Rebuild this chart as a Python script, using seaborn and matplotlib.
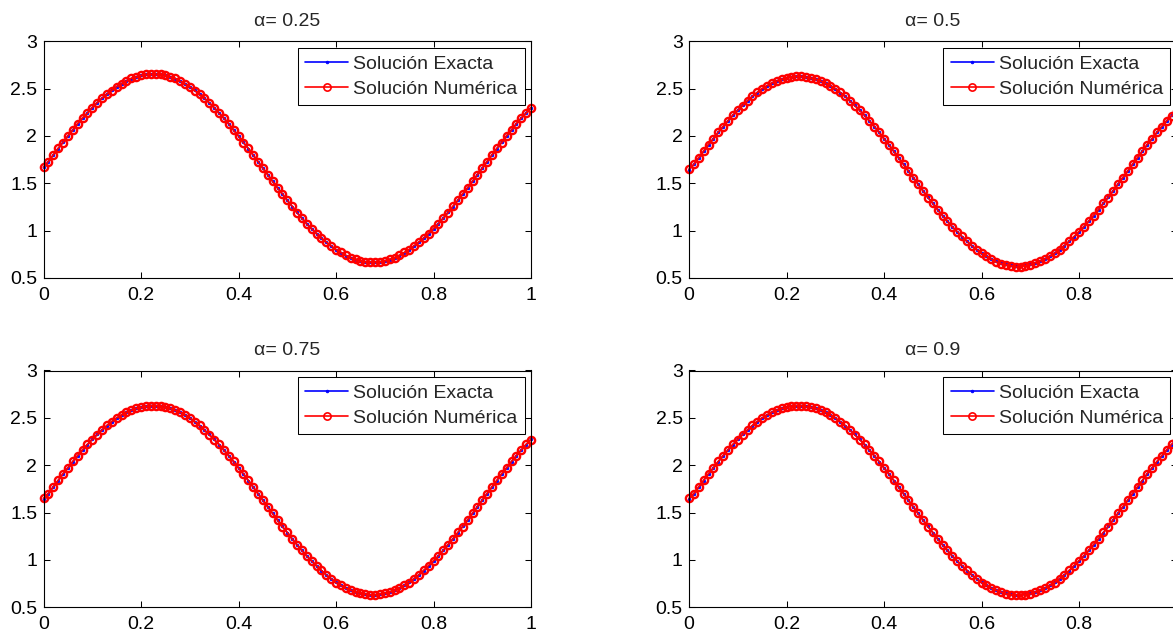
import numpy as np
import matplotlib
matplotlib.use("Agg")
import matplotlib.pyplot as plt
from matplotlib.ticker import FuncFormatter
import seaborn as sns

# ---- data ---------------------------------------------------------------
alphas = [0.25, 0.5, 0.75, 0.9]
x_nodes = np.linspace(0.0, 1.0, 101)

# exact solution u(x) at the grid nodes, alpha = 0.25
exact_025 = [
    1.672, 1.729, 1.798, 1.867, 1.934, 2.000, 2.065, 2.127, 2.187, 2.245,
    2.300, 2.351, 2.399, 2.444, 2.485, 2.522, 2.554, 2.583, 2.606, 2.625,
    2.640, 2.650, 2.654, 2.654, 2.650, 2.640, 2.625, 2.606, 2.583, 2.554,
    2.522, 2.485, 2.444, 2.399, 2.351, 2.300, 2.245, 2.187, 2.127, 2.065,
    2.000, 1.934, 1.867, 1.798, 1.729, 1.660, 1.591, 1.522, 1.453, 1.386,
    1.320, 1.255, 1.193, 1.133, 1.075, 1.020, 0.969, 0.921, 0.876, 0.835,
    0.798, 0.766, 0.737, 0.714, 0.695, 0.680, 0.670, 0.666, 0.666, 0.670,
    0.680, 0.695, 0.714, 0.737, 0.766, 0.798, 0.835, 0.876, 0.921, 0.969,
    1.020, 1.075, 1.133, 1.193, 1.255, 1.320, 1.386, 1.453, 1.522, 1.591,
    1.660, 1.729, 1.798, 1.867, 1.934, 2.000, 2.065, 2.127, 2.187, 2.245,
    2.300,
]

# exact solution u(x) at the grid nodes, alpha = 0.5, 0.75, 0.9
exact = [
    1.645, 1.700, 1.769, 1.838, 1.906, 1.972, 2.037, 2.100, 2.160, 2.218,
    2.273, 2.325, 2.373, 2.418, 2.459, 2.496, 2.529, 2.557, 2.581, 2.600,
    2.615, 2.625, 2.629, 2.629, 2.625, 2.615, 2.600, 2.581, 2.557, 2.529,
    2.496, 2.459, 2.418, 2.373, 2.325, 2.273, 2.218, 2.160, 2.100, 2.037,
    1.972, 1.906, 1.838, 1.769, 1.700, 1.630, 1.560, 1.491, 1.422, 1.354,
    1.288, 1.223, 1.160, 1.100, 1.042, 0.987, 0.935, 0.887, 0.842, 0.801,
    0.764, 0.731, 0.703, 0.679, 0.660, 0.645, 0.636, 0.631, 0.631, 0.636,
    0.645, 0.660, 0.679, 0.703, 0.731, 0.764, 0.801, 0.842, 0.887, 0.935,
    0.987, 1.042, 1.100, 1.160, 1.223, 1.288, 1.354, 1.422, 1.491, 1.560,
    1.630, 1.700, 1.769, 1.838, 1.906, 1.972, 2.037, 2.100, 2.160, 2.218,
    2.273,
]
exact_series = [exact_025, exact, exact, exact]

# numerical solutions for each fractional order
numeric_025 = [
    1.67, 1.73, 1.80, 1.87, 1.93, 2.00, 2.06, 2.13, 2.19, 2.24,
    2.30, 2.35, 2.40, 2.44, 2.48, 2.52, 2.55, 2.58, 2.61, 2.62,
    2.64, 2.65, 2.65, 2.65, 2.65, 2.64, 2.62, 2.61, 2.58, 2.55,
    2.52, 2.48, 2.44, 2.40, 2.35, 2.30, 2.24, 2.19, 2.13, 2.06,
    2.00, 1.93, 1.87, 1.80, 1.73, 1.66, 1.59, 1.52, 1.45, 1.39,
    1.32, 1.26, 1.19, 1.13, 1.07, 1.02, 0.97, 0.92, 0.88, 0.84,
    0.80, 0.77, 0.74, 0.71, 0.70, 0.68, 0.67, 0.67, 0.67, 0.67,
    0.68, 0.70, 0.71, 0.74, 0.77, 0.80, 0.84, 0.88, 0.92, 0.97,
    1.02, 1.07, 1.13, 1.19, 1.26, 1.32, 1.39, 1.45, 1.52, 1.59,
    1.66, 1.73, 1.80, 1.87, 1.93, 2.00, 2.06, 2.13, 2.19, 2.24,
    2.30,
]
numeric_050 = [
    1.65, 1.70, 1.77, 1.84, 1.91, 1.97, 2.04, 2.10, 2.16, 2.22,
    2.27, 2.32, 2.37, 2.42, 2.46, 2.50, 2.53, 2.56, 2.58, 2.60,
    2.61, 2.62, 2.63, 2.63, 2.62, 2.61, 2.60, 2.58, 2.56, 2.53,
    2.50, 2.46, 2.42, 2.37, 2.32, 2.27, 2.22, 2.16, 2.10, 2.04,
    1.97, 1.91, 1.84, 1.77, 1.70, 1.63, 1.56, 1.49, 1.42, 1.35,
    1.29, 1.22, 1.16, 1.10, 1.04, 0.99, 0.94, 0.89, 0.84, 0.80,
    0.76, 0.73, 0.70, 0.67, 0.65, 0.64, 0.63, 0.62, 0.62, 0.63,
    0.64, 0.66, 0.68, 0.70, 0.73, 0.76, 0.80, 0.84, 0.89, 0.94,
    0.99, 1.04, 1.10, 1.16, 1.22, 1.29, 1.35, 1.42, 1.49, 1.56,
    1.63, 1.70, 1.77, 1.84, 1.91, 1.97, 2.04, 2.10, 2.16, 2.21,
    2.26,
]
numeric_075 = [
    1.65, 1.70, 1.77, 1.84, 1.91, 1.97, 2.04, 2.10, 2.16, 2.22,
    2.27, 2.32, 2.37, 2.42, 2.46, 2.50, 2.53, 2.56, 2.58, 2.60,
    2.61, 2.62, 2.63, 2.63, 2.62, 2.61, 2.60, 2.58, 2.56, 2.53,
    2.50, 2.46, 2.42, 2.37, 2.32, 2.27, 2.22, 2.16, 2.10, 2.04,
    1.97, 1.91, 1.84, 1.77, 1.70, 1.63, 1.56, 1.49, 1.42, 1.35,
    1.29, 1.22, 1.16, 1.10, 1.04, 0.99, 0.94, 0.89, 0.84, 0.80,
    0.76, 0.73, 0.70, 0.68, 0.66, 0.65, 0.64, 0.63, 0.63, 0.64,
    0.65, 0.66, 0.68, 0.70, 0.73, 0.76, 0.80, 0.84, 0.89, 0.94,
    0.99, 1.04, 1.10, 1.16, 1.22, 1.29, 1.35, 1.42, 1.49, 1.56,
    1.63, 1.70, 1.77, 1.84, 1.91, 1.97, 2.04, 2.10, 2.16, 2.22,
    2.27,
]
numeric_090 = [
    1.65, 1.70, 1.77, 1.84, 1.91, 1.97, 2.04, 2.10, 2.16, 2.22,
    2.27, 2.32, 2.37, 2.42, 2.46, 2.50, 2.53, 2.56, 2.58, 2.60,
    2.61, 2.62, 2.63, 2.63, 2.62, 2.61, 2.60, 2.58, 2.56, 2.53,
    2.50, 2.46, 2.42, 2.37, 2.32, 2.27, 2.22, 2.16, 2.10, 2.04,
    1.97, 1.91, 1.84, 1.77, 1.70, 1.63, 1.56, 1.49, 1.42, 1.35,
    1.29, 1.22, 1.16, 1.10, 1.04, 0.99, 0.94, 0.89, 0.84, 0.80,
    0.76, 0.73, 0.70, 0.68, 0.66, 0.64, 0.63, 0.63, 0.63, 0.63,
    0.64, 0.66, 0.68, 0.70, 0.73, 0.76, 0.80, 0.84, 0.89, 0.94,
    0.99, 1.04, 1.10, 1.16, 1.22, 1.29, 1.35, 1.42, 1.49, 1.56,
    1.63, 1.70, 1.77, 1.84, 1.91, 1.97, 2.04, 2.10, 2.16, 2.22,
    2.27,
]
numeric = [numeric_025, numeric_050, numeric_075, numeric_090]

x_ticks = [0, 0.2, 0.4, 0.6, 0.8, 1.0]
y_ticks = [0.5, 1.0, 1.5, 2.0, 2.5, 3.0]
label_exact = "Solución Exacta"
label_numeric = "Solución Numérica"

# ---- style --------------------------------------------------------------
sns.set_theme(style="white")
plt.rcParams.update({
    "font.family": ["Liberation Sans", "DejaVu Sans"],
    "font.size": 14,
    "axes.edgecolor": "black",
    "axes.linewidth": 0.8,
    "xtick.direction": "in",
    "ytick.direction": "in",
    "xtick.top": True,
    "ytick.right": True,
    "xtick.bottom": True,
    "ytick.left": True,
    "xtick.major.size": 4,
    "ytick.major.size": 4,
    "xtick.major.width": 0.75,
    "ytick.major.width": 0.75,
    "xtick.color": "black",
    "ytick.color": "black",
    "xtick.labelsize": 14,
    "ytick.labelsize": 14,
    "xtick.major.pad": 6.5,
    "ytick.major.pad": 4.5,
})

W, H = 1173, 633
fig = plt.figure(figsize=(W / 100, H / 100), dpi=100)

# axes rectangles in pixels: left, top (right column runs past the canvas edge)
ax_w = 487.5
ax_h = 236.7
boxes = [
    (43.5, 41.3), (689.0, 41.3),
    (43.5, 370.5), (689.0, 370.5),
]

fmt = FuncFormatter(lambda v, _: f"{v:g}")

for i, ((left, top), alpha, ex, num) in enumerate(
        zip(boxes, alphas, exact_series, numeric)):
    ax = fig.add_axes([left / W, (H - top - ax_h) / H, ax_w / W, ax_h / H])
    sns.lineplot(x=x_nodes, y=ex, ax=ax, color=(0, 0, 1), linewidth=1.2,
                 marker=".", markersize=4, markeredgecolor=(0, 0, 1),
                 markerfacecolor=(0, 0, 1), markeredgewidth=0.5,
                 label=label_exact, clip_on=False)
    sns.lineplot(x=x_nodes, y=num, ax=ax, color=(1, 0, 0), linewidth=1.2,
                 marker="o", markersize=5.2, markeredgecolor=(1, 0, 0),
                 markerfacecolor="none", markeredgewidth=1.7,
                 label=label_numeric, clip_on=False)
    ax.set_xlim(0, 1)
    ax.set_ylim(0.5, 3)
    ax.set_xticks(x_ticks)
    ax.set_yticks(y_ticks)
    ax.xaxis.set_major_formatter(fmt)
    ax.yaxis.set_major_formatter(fmt)
    ax.set_xlabel("")
    ax.set_ylabel("")
    for s in ax.spines.values():
        s.set_visible(True)
        s.set_color("black")
    if i % 2 == 1:
        # the last x label of the right column falls outside the canvas
        ax.get_xticklabels()[-1].set_visible(False)
    ax.set_title(f"α= {alpha:g}", fontsize=14, pad=11)
    leg = ax.legend(loc="upper right", fontsize=14, frameon=True,
                    fancybox=False, edgecolor="black", framealpha=1,
                    borderpad=0.38, labelspacing=0.38, handlelength=2.2,
                    handletextpad=0.26, borderaxespad=0.32, numpoints=1)
    leg.get_frame().set_linewidth(0.75)
    for h in leg.legend_handles:
        h.set_markeredgewidth(1.2 if h.get_marker() == "o" else 0.5)

fig.savefig("out.png", dpi=100, facecolor="white")
